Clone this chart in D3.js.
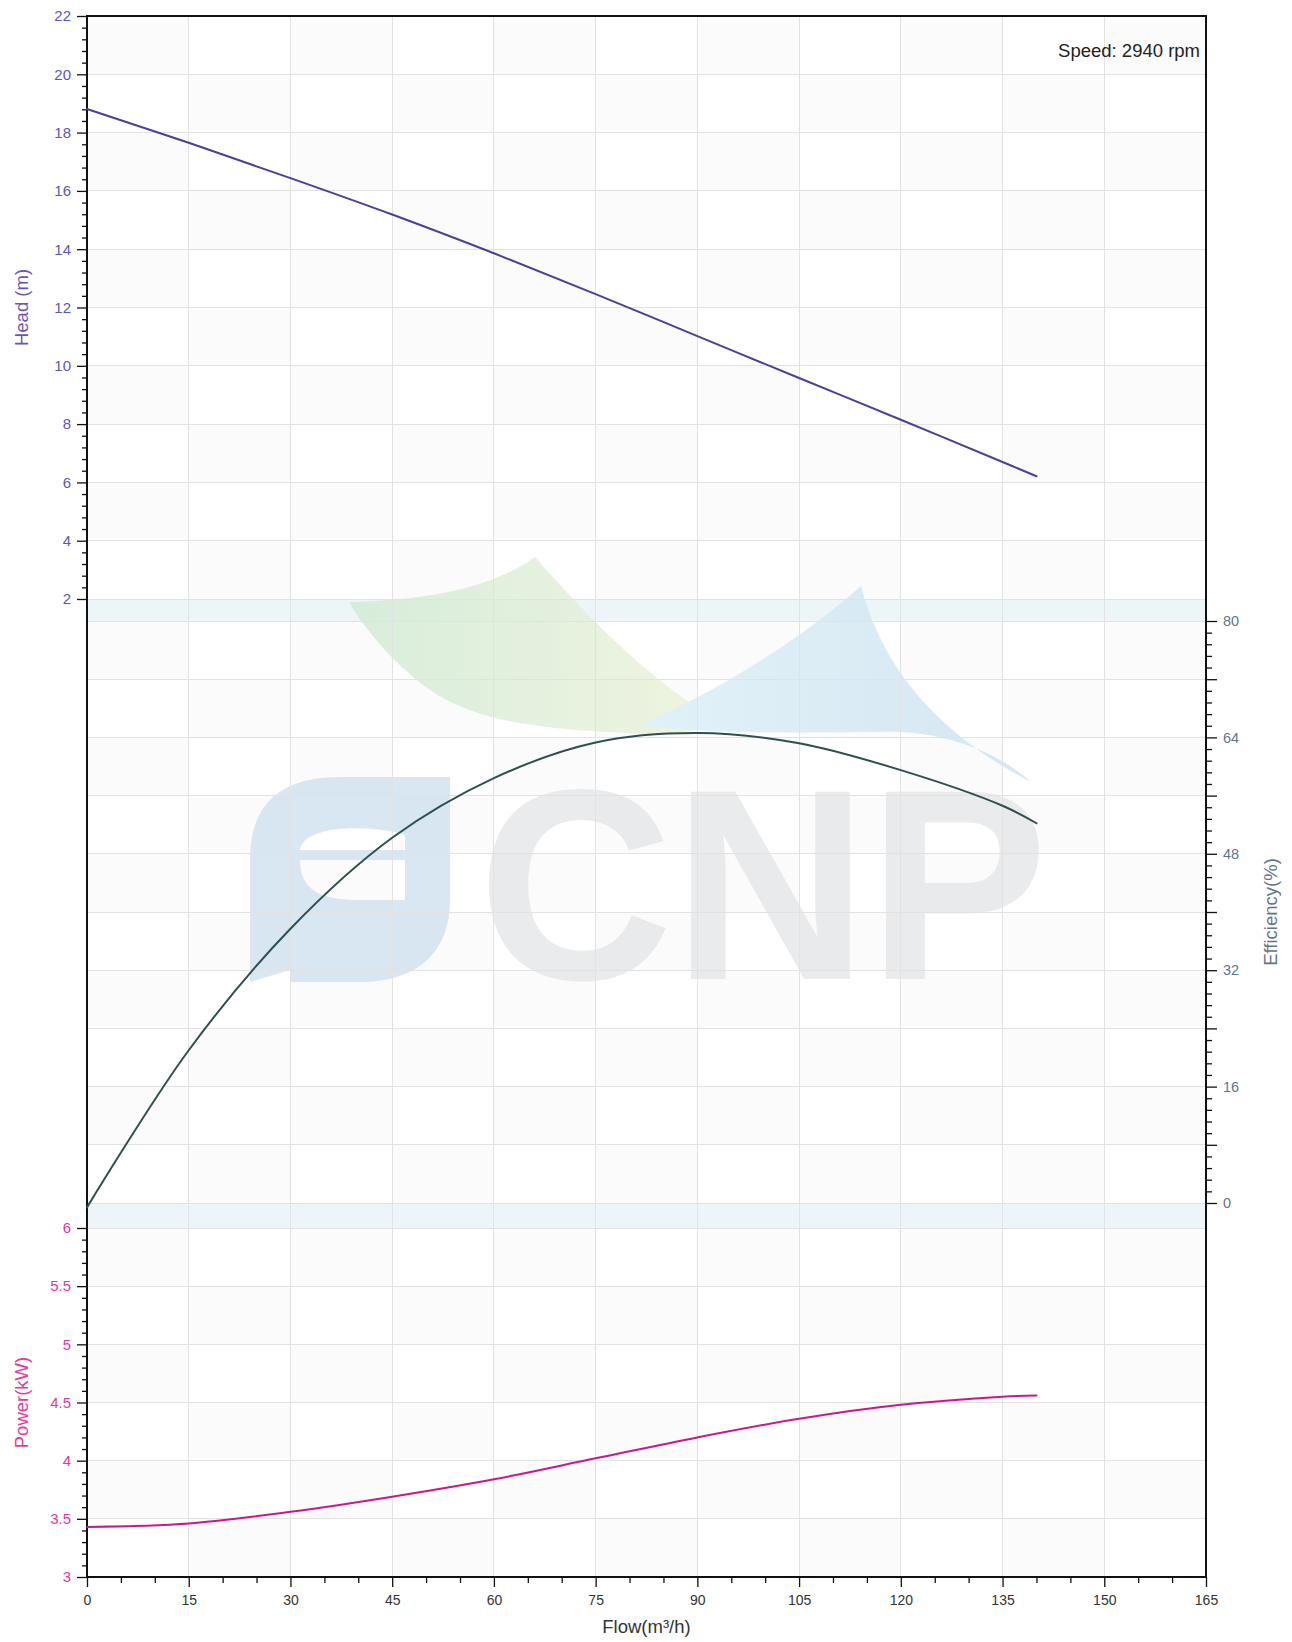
<!DOCTYPE html>
<html>
<head>
<meta charset="utf-8">
<script src="https://cdn.jsdelivr.net/npm/d3@7/dist/d3.min.js"></script>
<style>
  html, body { margin: 0; padding: 0; background: #fff; }
  svg { display: block; font-family: "Liberation Sans", Arial, sans-serif; }
</style>
</head>
<body>
<svg id="chart" width="1292" height="1642"></svg>
<script>
// ---------- data ----------
const flow       = [0, 15, 30, 45, 60, 75, 90, 105, 120, 135, 140];
const head       = [18.81, 17.65, 16.44, 15.19, 13.86, 12.46, 11.02, 9.58, 8.15, 6.70, 6.21];
const efficiency = [-0.6, 21.0, 37.7, 50.2, 58.4, 63.3, 64.6, 63.2, 59.5, 54.6, 52.2];
const power      = [3.43, 3.46, 3.56, 3.69, 3.84, 4.02, 4.20, 4.36, 4.48, 4.55, 4.56];

const flowTicks  = [0, 15, 30, 45, 60, 75, 90, 105, 120, 135, 150, 165];
const headTicks  = [2, 4, 6, 8, 10, 12, 14, 16, 18, 20, 22];
const effTicks   = [0, 16, 32, 48, 64, 80];
const powerTicks = [3, 3.5, 4, 4.5, 5, 5.5, 6];
const speedLabel = "Speed: 2940 rpm";

// ---------- layout ----------
const L = 87, R = 1206;
const headTop = 16, headBot = 599;
const effTop = 621, effBot = 1203;
const powTop = 1228, powBot = 1577;

const x  = d3.scaleLinear().domain([0, 165]).range([L, R]);
const yH = d3.scaleLinear().domain([2, 22]).range([headBot, headTop]);
const yE = d3.scaleLinear().domain([0, 80]).range([effBot, effTop]);
const yP = d3.scaleLinear().domain([3, 6]).range([powBot, powTop]);

const svg = d3.select("#chart");

const COL = {
  head: "#4b3f98", headTxt: "#5e55b8",
  eff: "#2f4f4f", effTxt: "#5f7588",
  pow: "#c8198c", powTxt: "#e03a9c",
  grid: "#e2e2e2", cell: "#fbfbfb", band: "#edf5f9", axis: "#111"
};

// ---------- checkerboard backgrounds ----------
function checker(scale, ticks) {
  const rows = ticks.slice().sort((a, b) => b - a);
  const g = svg.append("g");
  for (let j = 0; j < rows.length - 1; j++) {
    for (let i = 0; i < flowTicks.length - 1; i++) {
      if ((i + j) % 2 === 0) {
        g.append("rect")
          .attr("x", x(flowTicks[i])).attr("width", x(flowTicks[i + 1]) - x(flowTicks[i]))
          .attr("y", scale(rows[j])).attr("height", scale(rows[j + 1]) - scale(rows[j]))
          .attr("fill", COL.cell);
      }
    }
  }
}
checker(yH, headTicks);
checker(yE, d3.range(0, 81, 8));
checker(yP, powerTicks);

// bands between panels
svg.append("rect").attr("x", L).attr("width", R - L).attr("y", yH(2)).attr("height", yE(80) - yH(2)).attr("fill", COL.band);
svg.append("rect").attr("x", L).attr("width", R - L).attr("y", yE(0)).attr("height", yP(6) - yE(0)).attr("fill", COL.band);

// ---------- watermark (decorative) ----------
const wm = svg.append("g").attr("opacity", 0.85);
const defs = svg.append("defs");
const gg = defs.append("linearGradient").attr("id", "wmGreen").attr("x1", "0").attr("x2", "1");
gg.append("stop").attr("offset", "0").attr("stop-color", "#d3ebd6");
gg.append("stop").attr("offset", "1").attr("stop-color", "#eef3dc");
const gb = defs.append("linearGradient").attr("id", "wmBlue").attr("x1", "0").attr("x2", "1");
gb.append("stop").attr("offset", "0").attr("stop-color", "#ddf0f8");
gb.append("stop").attr("offset", "1").attr("stop-color", "#cfe3f1");
wm.append("path")
  .attr("d", "M349,602 C420,600 490,590 535,557 C590,620 660,690 722,722 C690,735 650,735 628,733 C560,730 480,725 430,690 C395,665 365,630 349,602 Z")
  .attr("fill", "url(#wmGreen)");
wm.append("path")
  .attr("d", "M640,725 C720,690 800,640 861,586 C880,660 930,730 1031,782 C990,745 930,730 880,732 C800,732 720,735 640,725 Z")
  .attr("fill", "url(#wmBlue)");
wm.append("path")
  .attr("d", "M250,860 C250,800 285,777 340,777 L450,777 L450,900 C450,950 420,982 360,982 L290,982 L290,970 L250,982 Z M300,860 C300,890 320,900 360,900 L405,900 L405,860 Z M300,850 L405,850 L405,835 C390,830 360,826 330,830 C310,834 300,842 300,850 Z")
  .attr("fill", "#d3e3f1").attr("fill-rule", "evenodd");
wm.append("text")
  .attr("x", 478).attr("y", 979)
  .attr("font-size", 272).attr("font-weight", "bold")
  .attr("fill", "#e6e8e9")
  .attr("textLength", 570).attr("lengthAdjust", "spacingAndGlyphs")
  .text("CNP");

// ---------- grid ----------
const grid = svg.append("g").attr("stroke", COL.grid).attr("stroke-width", 1).attr("shape-rendering", "crispEdges");
flowTicks.slice(1, -1).forEach(f => grid.append("line").attr("x1", x(f)).attr("x2", x(f)).attr("y1", headTop).attr("y2", powBot));
headTicks.slice(0, -1).forEach(v => grid.append("line").attr("x1", L).attr("x2", R).attr("y1", yH(v)).attr("y2", yH(v)));
d3.range(0, 81, 8).forEach(v => grid.append("line").attr("x1", L).attr("x2", R).attr("y1", yE(v)).attr("y2", yE(v)));
powerTicks.slice(1).forEach(v => grid.append("line").attr("x1", L).attr("x2", R).attr("y1", yP(v)).attr("y2", yP(v)));

// ---------- axes ----------
function styleAxis(g, color, size) {
  g.select(".domain").remove();
  g.selectAll(".tick line").attr("stroke", COL.axis).attr("stroke-width", 1.3);
  g.selectAll(".tick text").attr("fill", color).attr("font-size", size)
    .attr("font-family", "'Liberation Sans', Arial, sans-serif");
}
function minorAxis(axisFn, scale, values, len) {
  return axisFn(scale).tickValues(values).tickSize(len).tickFormat("");
}

// left: head
const gHm = svg.append("g").attr("transform", `translate(${L},0)`)
  .call(minorAxis(d3.axisLeft, yH, d3.range(2, 22.01, 0.4).filter(v => Math.abs(v / 2 - Math.round(v / 2)) > 1e-6), 5));
styleAxis(gHm, COL.headTxt, 15);
const gH = svg.append("g").attr("transform", `translate(${L},0)`)
  .call(d3.axisLeft(yH).tickValues(headTicks).tickSize(10).tickPadding(6).tickFormat(d3.format("d")));
styleAxis(gH, COL.headTxt, 15);

// left: power
const gPm = svg.append("g").attr("transform", `translate(${L},0)`)
  .call(minorAxis(d3.axisLeft, yP, d3.range(3, 6.001, 0.1).filter(v => Math.abs(v * 2 - Math.round(v * 2)) > 1e-6), 5));
styleAxis(gPm, COL.powTxt, 15);
const gP = svg.append("g").attr("transform", `translate(${L},0)`)
  .call(d3.axisLeft(yP).tickValues(powerTicks).tickSize(10).tickPadding(6).tickFormat(d => d3.format("")(d)));
styleAxis(gP, COL.powTxt, 15);

// right: efficiency
const gEm = svg.append("g").attr("transform", `translate(${R},0)`)
  .call(minorAxis(d3.axisRight, yE, d3.range(0, 80.01, 1.6).filter(v => Math.abs(v / 8 - Math.round(v / 8)) > 1e-6), 6));
styleAxis(gEm, COL.effTxt, 14.5);
const gEmid = svg.append("g").attr("transform", `translate(${R},0)`)
  .call(minorAxis(d3.axisRight, yE, [8, 24, 40, 56, 72], 11));
styleAxis(gEmid, COL.effTxt, 14.5);
const gE = svg.append("g").attr("transform", `translate(${R},0)`)
  .call(d3.axisRight(yE).tickValues(effTicks).tickSize(11).tickPadding(6).tickFormat(d3.format("d")));
styleAxis(gE, COL.effTxt, 14.5);

// bottom: flow
const gXm = svg.append("g").attr("transform", `translate(0,${powBot})`)
  .call(minorAxis(d3.axisBottom, x, d3.range(0, 165.01, 5).filter(v => v % 15 !== 0), 6));
styleAxis(gXm, "#333", 14);
const gX = svg.append("g").attr("transform", `translate(0,${powBot})`)
  .call(d3.axisBottom(x).tickValues(flowTicks).tickSize(10).tickPadding(8).tickFormat(d3.format("d")));
styleAxis(gX, "#333", 14);

// frame
svg.append("rect").attr("x", L).attr("y", headTop).attr("width", R - L).attr("height", powBot - headTop)
  .attr("fill", "none").attr("stroke", COL.axis).attr("stroke-width", 2);

// ---------- curves ----------
const pts = arr => flow.map((f, i) => [f, arr[i]]);
function curve(arr, ys, color) {
  svg.append("path")
    .datum(pts(arr))
    .attr("fill", "none").attr("stroke", color).attr("stroke-width", 2)
    .attr("stroke-linejoin", "round").attr("stroke-linecap", "round")
    .attr("d", d3.line().x(d => x(d[0])).y(d => ys(d[1])).curve(d3.curveCatmullRom.alpha(0.5)));
}
curve(head, yH, COL.head);
curve(efficiency, yE, COL.eff);
curve(power, yP, COL.pow);

// ---------- texts ----------
svg.append("text").attr("x", 1200).attr("y", 57).attr("text-anchor", "end")
  .attr("font-size", 18.5).attr("fill", "#222").text(speedLabel);

svg.append("text").attr("x", (L + R) / 2).attr("y", 1633).attr("text-anchor", "middle")
  .attr("font-size", 18.5).attr("fill", "#333").text("Flow(m³/h)");

svg.append("text").attr("transform", `translate(21,${(headTop + headBot) / 2}) rotate(-90)`)
  .attr("text-anchor", "middle").attr("dominant-baseline", "central")
  .attr("font-size", 18.5).attr("fill", "#6a55b5").text("Head (m)");

svg.append("text").attr("transform", `translate(21,${(powTop + powBot) / 2}) rotate(-90)`)
  .attr("text-anchor", "middle").attr("dominant-baseline", "central")
  .attr("font-size", 18.5).attr("fill", COL.powTxt).text("Power(kW)");

svg.append("text").attr("transform", `translate(1270,${(effTop + effBot) / 2}) rotate(-90)`)
  .attr("text-anchor", "middle").attr("dominant-baseline", "central")
  .attr("font-size", 18.5).attr("fill", COL.effTxt).text("Efficiency(%)");
</script>
</body>
</html>
